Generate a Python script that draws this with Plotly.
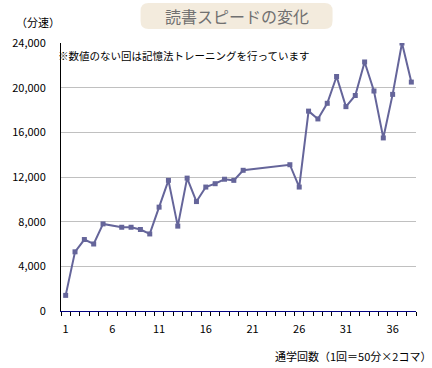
import plotly.graph_objects as go

sessions = list(range(1, 39))
speed = [1400, 5300, 6400, 6000, 7800, None, 7500, 7500, 7300, 6900,
         9300, 11700, 7600, 11900, 9800, 11100, 11400, 11800, 11700, 12600,
         None, None, None, None, 13100, 11100, 17900, 17200, 18600, 21000,
         18300, 19300, 22300, 19700, 15500, 19400, 24000, 20500]
x_tick_vals = [1, 6, 11, 16, 21, 26, 31, 36]
y_tick_vals = [0, 4000, 8000, 12000, 16000, 20000, 24000]

title_text = "読書スピードの変化"
y_title = "（分速）"
x_title = "通学回数（1回＝50分×2コマ）"
note_text = "※数値のない回は記憶法トレーニングを行っています"

JP = "Noto Sans CJK JP, sans-serif"
LINE = "#65659A"

fig = go.Figure()
fig.add_trace(go.Scatter(
    x=sessions, y=speed, mode="lines+markers", connectgaps=True,
    line=dict(color=LINE, width=2),
    marker=dict(symbol="square", size=5, color=LINE),
    hoverinfo="x+y", showlegend=False,
))

fig.update_layout(
    width=432, height=368,
    margin=dict(l=52, r=16, t=43, b=57),
    paper_bgcolor="white", plot_bgcolor="white",
    font=dict(family=JP, size=11, color="black"),
    xaxis=dict(
        range=[0.5, 38.5], tickmode="array", tickvals=x_tick_vals,
        ticks="", showgrid=False, zeroline=False,
        showline=True, linecolor="#000080", linewidth=1,
        tickfont=dict(size=11, family=JP), ticklabelstandoff=8,
        minor=dict(tickmode="linear", tick0=0.5, dtick=1, ticks="outside",
                   ticklen=4, tickcolor="black", tickwidth=1, showgrid=False),
    ),
    yaxis=dict(
        range=[0, 24000], tickmode="array", tickvals=y_tick_vals,
        tickformat=",", showgrid=True, gridcolor="#C0C0C0", gridwidth=1,
        zeroline=False, showline=True, linecolor="black", linewidth=1,
        ticks="", tickfont=dict(size=11, family=JP), ticklabelstandoff=12,
    ),
    shapes=[dict(
        type="path", xref="paper", yref="paper",
        xsizemode="pixel", ysizemode="pixel",
        xanchor=(232 - 52) / 364, yanchor=(311 - 16) / 268,
        path="M -88 -13 L 88 -13 Q 96 -13 96 -5 L 96 5 Q 96 13 88 13 L -88 13 Q -96 13 -96 5 L -96 -5 Q -96 -13 -88 -13 Z",
        fillcolor="#F3EBDD", line=dict(width=0), layer="below",
    )],
    annotations=[
        dict(text=title_text, xref="paper", yref="paper",
             x=(232 - 52) / 364, y=(311 - 16) / 268, xanchor="center", yanchor="middle",
             showarrow=False, font=dict(size=16, color="#707070", family=JP)),
        dict(text=y_title, xref="paper", yref="paper",
             x=(4 - 52) / 364, y=(311 - 22) / 268, xanchor="left", yanchor="middle",
             showarrow=False, font=dict(size=11, family=JP)),
        dict(text=note_text, xref="paper", yref="paper",
             x=(47 - 52) / 364, y=(311 - 55) / 268, xanchor="left", yanchor="middle",
             showarrow=False, font=dict(size=10.5, family=JP)),
        dict(text=x_title, xref="paper", yref="paper",
             x=(433 - 52) / 364, y=(311 - 356) / 268, xanchor="right", yanchor="middle",
             showarrow=False, font=dict(size=11, family=JP)),
    ],
)

fig.write_html("out.html", config={"displayModeBar": False},
               post_script="document.body.style.margin='0';")
